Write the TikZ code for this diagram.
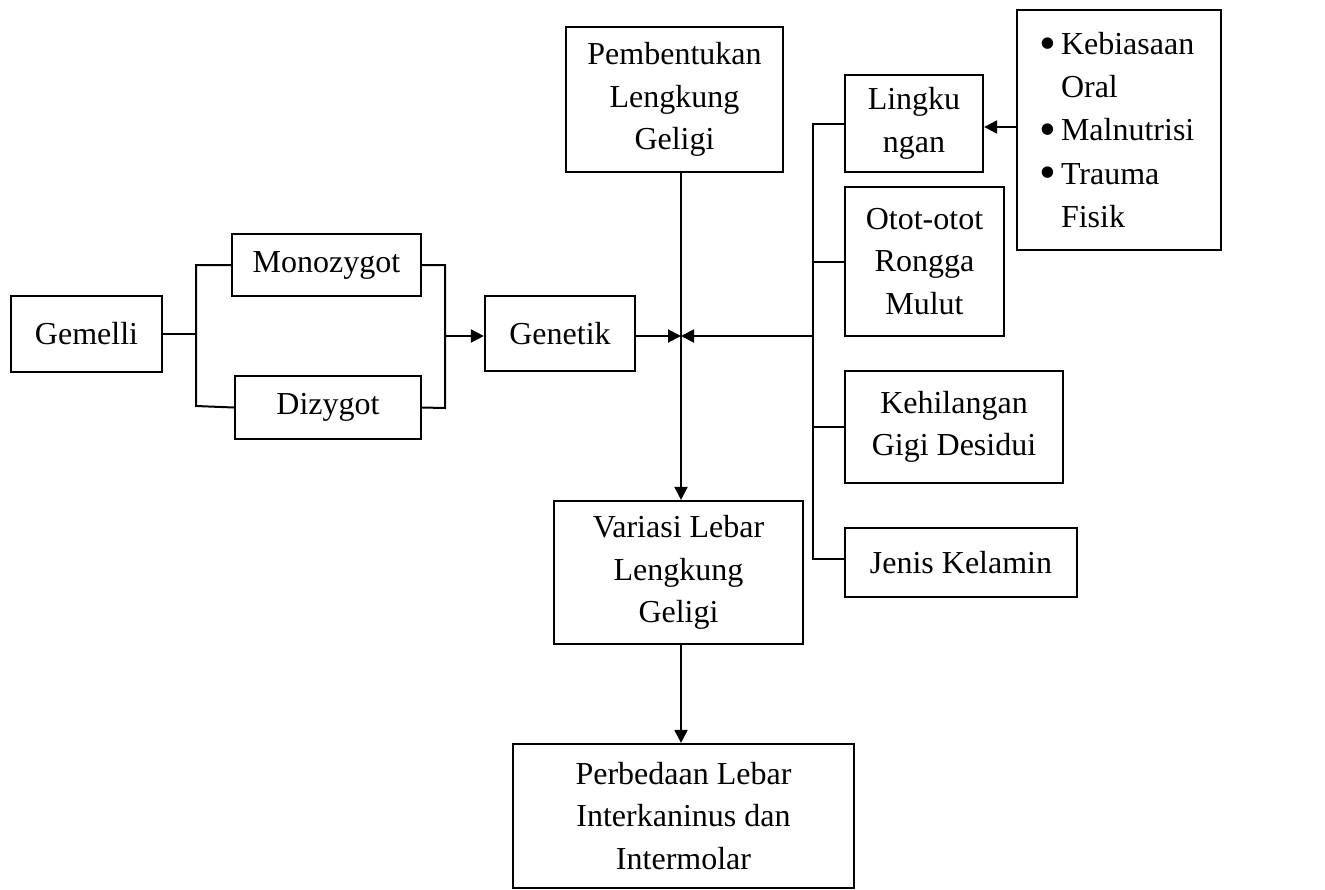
\documentclass[tikz,border=0pt]{standalone}
\usepackage{fontspec}
\setmainfont{Liberation Serif}
\usetikzlibrary{arrows.meta}
\newcommand{\bigbul}{\raisebox{-2.4pt}{\scalebox{1.5}{\textbullet}}}
\newcommand{\bulitem}[1]{\makebox[11pt][l]{\bigbul}#1}
\newcommand{\bulcont}[1]{\makebox[11pt][l]{}#1}
\begin{document}
\begin{tikzpicture}[x=0.5pt,y=-0.5pt,
  box/.style={draw=black,line width=1.1pt,inner sep=0pt,align=center,
    font=\fontsize{16}{21.3}\selectfont},
  conn/.style={draw=black,line width=1pt},
  arr/.style={conn,-{Triangle[length=6.5pt,width=6.5pt]}}]
\useasboundingbox (0,0) rectangle (1325,889);
\fill[white] (0,0) rectangle (1325,889);
% boxes
\node[box,minimum width=75.5pt,minimum height=38pt] (gem) at (86.5,334) {Gemelli};
\node[box,minimum width=94.5pt,minimum height=31pt] (mono) at (326.5,265) {Monozygot};
\node[box,minimum width=93pt,minimum height=31.5pt] (dizy) at (328,407.5) {Dizygot};
\node[box,minimum width=75pt,minimum height=37.5pt] (gen) at (560,333.5) {Genetik};
\node[box,minimum width=108.5pt,minimum height=72.5pt] (pem) at (674.5,99.5) {Pembentukan\\Lengkung\\Geligi};
\node[box,minimum width=69pt,minimum height=48.5pt] (ling) at (914,123.5) {Lingku\\ngan};
\node[box,minimum width=79.5pt,minimum height=74.5pt] (otot) at (924.5,261.5) {Otot-otot\\Rongga\\Mulut};
\node[box,minimum width=109pt,minimum height=56pt] (keh) at (954,427) {Kehilangan\\Gigi Desidui};
\node[box,minimum width=116pt,minimum height=34.5pt] (jen) at (961,562.5) {Jenis Kelamin};
\node[box,minimum width=102pt,minimum height=120pt,text width=80pt,align=left,
  inner xsep=11pt,font=\fontsize{16}{21.6}\selectfont] (bul) at (1119,130)
  {\bulitem{Kebiasaan}\\\bulcont{Oral}\\\bulitem{Malnutrisi}\\\bulitem{Trauma}\\\bulcont{Fisik}};
\node[box,minimum width=124.5pt,minimum height=71.5pt] (var) at (678.5,572.5) {Variasi Lebar\\Lengkung\\Geligi};
\node[box,minimum width=170.5pt,minimum height=72pt] (per) at (683.5,816) {Perbedaan Lebar\\Interkaninus dan\\Intermolar};
% helper coordinates
\coordinate (lbb) at (196,406);
\coordinate (rbb) at (445,408);
\coordinate (junc) at (681,336);
\coordinate (bus) at (813,127);
\coordinate (busb) at (813,559);
% left bracket
\draw[conn] (mono.west) -| (lbb) -- (dizy.west);
\draw[conn] (gem.east) -- (gem.east -| lbb);
% right bracket
\draw[conn] (mono.east) -| (rbb) -- (dizy.east);
\draw[arr] (rbb |- junc) -- (gen.west |- junc);
% genetik to junction
\draw[arr] (gen.east |- junc) -- (junc);
% right bus
\draw[conn] (ling.west) -| (busb) -- (jen.west |- busb);
\draw[conn] (otot.west) -- (otot.west -| bus);
\draw[conn] (keh.west) -- (keh.west -| bus);
\draw[arr] (bus |- junc) -- (junc);
% environment factors
\draw[arr] (bul.west |- bus) -- (ling.east |- bus);
% main vertical
\draw[arr] (pem.south -| junc) -- (var.north -| junc);
\draw[arr] (var.south -| junc) -- (per.north -| junc);
\end{tikzpicture}
\end{document}
